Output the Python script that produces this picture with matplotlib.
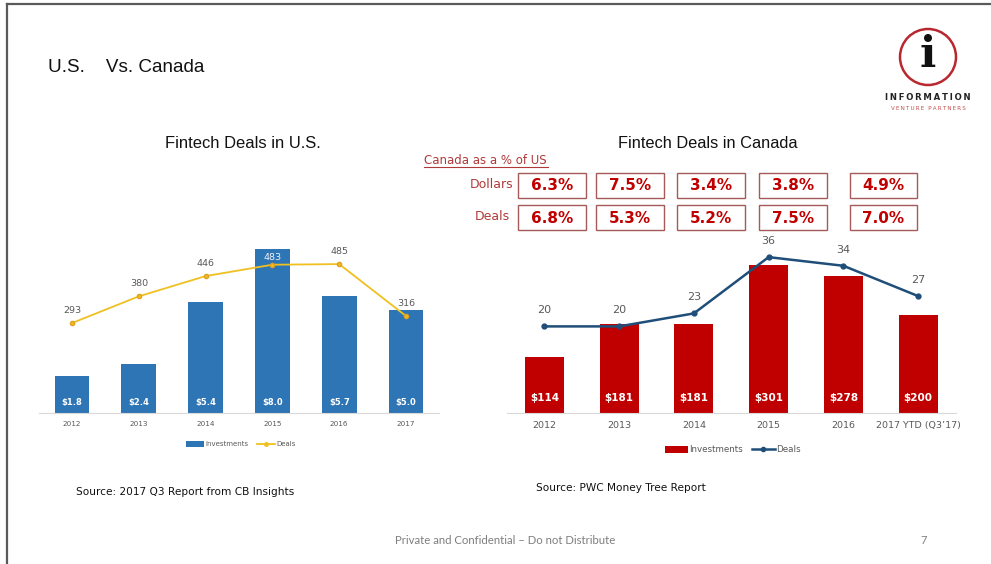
import matplotlib
matplotlib.use("Agg")
import matplotlib.pyplot as plt
from matplotlib.patches import Rectangle, Ellipse, Patch
from matplotlib.lines import Line2D

# ---- data ----
us_years = ["2012", "2013", "2014", "2015", "2016", "2017"]
us_investments = [1.8, 2.4, 5.4, 8.0, 5.7, 5.0]          # $B
us_deals = [293, 380, 446, 483, 485, 316]

ca_years = ["2012", "2013", "2014", "2015", "2016", "2017 YTD (Q3\u201917)"]
ca_investments = [114, 181, 181, 301, 278, 200]          # $M
ca_deals = [20, 20, 23, 36, 34, 27]

pct_dollars = ["6.3%", "7.5%", "3.4%", "3.8%", "4.9%"]
pct_deals = ["6.8%", "5.3%", "5.2%", "7.5%", "7.0%"]

# ---- page setup (pixel helpers) ----
W, H = 991, 564
fig = plt.figure(figsize=(W / 100, H / 100), dpi=100)
fig.patch.set_facecolor("white")


def fx(x):
    return x / W


def fy(y):
    return 1 - y / H


def px_axes(left, top, right, bottom):
    return fig.add_axes([fx(left), fy(bottom), (right - left) / W, (bottom - top) / H])


def ftext(x, y, s, **kw):
    return fig.text(fx(x), fy(y), s, **kw)


# slide border
fig.add_artist(Line2D([fx(7), fx(991)], [fy(4), fy(4)], color="#5a5a5a", lw=1.6))
fig.add_artist(Line2D([fx(7), fx(7)], [fy(4), fy(564)], color="#5a5a5a", lw=1.6))

# slide heading
ftext(48, 68, "U.S.    Vs. Canada", fontsize=13.6, family="Liberation Sans",
      color="#111111", va="center", ha="left")

# logo
fig.add_artist(Ellipse((fx(928), fy(57)), width=56 / W, height=56 / H,
                       transform=fig.transFigure, fill=False,
                       edgecolor="#b8282e", lw=1.8))
ftext(928, 55, "i", fontsize=31, family="DejaVu Serif", fontweight="bold",
      color="#111111", ha="center", va="center")
ftext(928, 97, "\u2009".join("INFORMATION"), fontsize=6.1, fontweight="bold",
      family="DejaVu Sans", color="#222222", ha="center", va="center")
ftext(928, 109, "\u2009".join("VENTURE PARTNERS"), fontsize=4.1,
      family="DejaVu Sans", color="#c0504d", ha="center", va="center")

# chart titles
ftext(243, 144, "Fintech Deals in U.S.", fontsize=11.9, family="Liberation Sans",
      color="#111111", ha="center", va="center")
ftext(708, 144, "Fintech Deals in Canada", fontsize=11.8, family="Liberation Sans",
      color="#111111", ha="center", va="center")


def style_axes(ax):
    for s in ("top", "right", "left"):
        ax.spines[s].set_visible(False)
    ax.spines["bottom"].set_color("#d9d9d9")
    ax.spines["bottom"].set_linewidth(0.8)
    ax.tick_params(axis="y", left=False, right=False, labelleft=False,
                   labelright=False)
    ax.tick_params(axis="x", length=0)
    ax.set_facecolor("none")


# ---- U.S. chart ----
ax1 = px_axes(38.6, 240, 439.4, 413)
xs = list(range(len(us_years)))
ax1.bar(xs, us_investments, width=0.52, color="#2e75b6", zorder=2)
ax1.set_xlim(-0.5, len(xs) - 0.5)
ax1.set_ylim(0, 173 / 20.5)
ax1.set_xticks(xs)
ax1.set_xticklabels(us_years, fontsize=5.2, color="#595959")
for x, v in zip(xs, us_investments):
    ax1.annotate(f"${v:.1f}", (x, 0), xytext=(0, 7.2), textcoords="offset points",
                 ha="center", va="center", color="white", fontsize=6,
                 fontweight="bold", family="DejaVu Sans", zorder=5)

ax1b = ax1.twinx()
ax1b.set_ylim(0, 173 / 0.307)
ax1b.axis("off")
ax1b.plot(xs, us_deals, color="#f0c020", lw=1.3, marker="o", markersize=3,
          markerfacecolor="#f0c020", markeredgecolor="#e0a020", zorder=3)
for x, v in zip(xs, us_deals):
    inside = x == 3
    ax1b.annotate(str(v), (x, v), xytext=(0, 5.5 if inside else 9),
                  textcoords="offset points", ha="center", va="center",
                  fontsize=6.8, color="#eef2f8" if inside else "#595959")
style_axes(ax1)
ax1.tick_params(axis="x", pad=6)

ax1.legend(
    handles=[Patch(facecolor="#2e75b6", label="Investments"),
             Line2D([], [], color="#f0c020", lw=1.3, marker="o", markersize=2.5,
                    label="Deals")],
    loc="center", bbox_to_anchor=(fx(241), fy(444)), bbox_transform=fig.transFigure,
    ncol=2, frameon=False, fontsize=5, handlelength=2.6, handleheight=0.9,
    handletextpad=0.2, columnspacing=1.2, labelcolor="#595959")

# ---- Canada chart ----
ax2 = px_axes(507, 240, 955.5, 413)
xs2 = list(range(len(ca_years)))
ax2.bar(xs2, ca_investments, width=0.52, color="#c00000", zorder=2)
ax2.set_xlim(-0.5, len(xs2) - 0.5)
ax2.set_ylim(0, 173 / 0.492)
ax2.set_xticks(xs2)
ax2.set_xticklabels(ca_years, fontsize=6.8, color="#595959")
for x, v in zip(xs2, ca_investments):
    ax2.annotate(f"${v}", (x, 0), xytext=(0, 10.5), textcoords="offset points",
                 ha="center", va="center", color="white", fontsize=7.5,
                 fontweight="bold", family="DejaVu Sans", zorder=5)

ax2b = ax2.twinx()
ax2b.set_ylim(0, 173 / 4.33)
ax2b.axis("off")
ax2b.plot(xs2, ca_deals, color="#1f4e79", lw=1.8, marker="o", markersize=3.5,
          zorder=3)
for x, v in zip(xs2, ca_deals):
    ax2b.annotate(str(v), (x, v), xytext=(0, 11.5), textcoords="offset points",
                  ha="center", va="center", fontsize=8, color="#595959")
style_axes(ax2)
ax2.tick_params(axis="x", pad=6)

ax2.legend(
    handles=[Patch(facecolor="#c00000", label="Investments"),
             Line2D([], [], color="#1f4e79", lw=1.8, marker="o", markersize=3,
                    label="Deals")],
    loc="center", bbox_to_anchor=(fx(733), fy(450)), bbox_transform=fig.transFigure,
    ncol=2, frameon=False, fontsize=6.3, handlelength=2.6, handleheight=0.8,
    handletextpad=0.2, columnspacing=1.0, labelcolor="#595959")

# ---- Canada as a % of US ----
ftext(424, 160, "Canada as a % of US", fontsize=8.5, family="DejaVu Sans",
      color="#b03a3a", ha="left", va="center")
fig.add_artist(Line2D([fx(424), fx(548)], [fy(167), fy(167)], color="#b03a3a", lw=0.8))
ftext(513, 185, "Dollars", fontsize=9, family="DejaVu Sans", color="#b03a3a",
      ha="right", va="center")
ftext(510, 217, "Deals", fontsize=9, family="DejaVu Sans", color="#b03a3a",
      ha="right", va="center")

box_lefts = [517.7, 596, 676.7, 759, 850]
box_widths = [68, 68, 68, 68, 67]
for row_top, values in ((173, pct_dollars), (205, pct_deals)):
    for bl, bw, s in zip(box_lefts, box_widths, values):
        fig.add_artist(Rectangle((fx(bl), fy(row_top + 25)), bw / W, 25 / H,
                                 transform=fig.transFigure, fill=False,
                                 edgecolor="#a85a5a", lw=1.0))
        ftext(bl + bw / 2, row_top + 13, s, fontsize=11, fontweight="bold",
              family="DejaVu Sans", color="#c00000", ha="center", va="center")

# ---- sources and footer ----
ftext(76, 492, "Source: 2017 Q3 Report from CB Insights", fontsize=7.6,
      family="DejaVu Sans", color="#111111", ha="left", va="center")
ftext(536, 488, "Source: PWC Money Tree Report", fontsize=7.6,
      family="DejaVu Sans", color="#111111", ha="left", va="center")
ftext(505, 540, "Private and Confidential \u2013 Do not Distribute", fontsize=8.2,
      family="Lato", color="#7f7f7f", ha="center", va="center")
ftext(924, 540, "7", fontsize=8, family="Lato", color="#7f7f7f",
      ha="center", va="center")

fig.savefig("out.png", dpi=100, facecolor="white")
